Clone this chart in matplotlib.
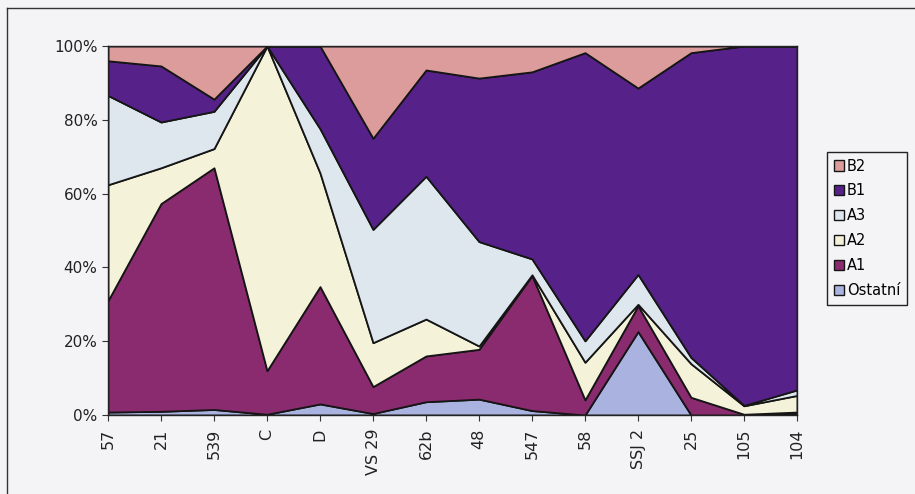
import matplotlib.pyplot as plt
import numpy as np

plt.rcParams['font.family'] = ['DejaVu Sans']

# categories along the x axis
labels = ['57', '21', '539', 'C', 'D', 'VS 29', '62b', '48', '547', '58', 'SSJ 2', '25', '105', '104']

# share of each class in percent
ostatni = [0.8, 1.0, 1.5, 0.2, 3.0, 0.4, 3.6, 4.3, 1.2, 0.0, 22.6, 0.0, 0.0, 0.3]
a1 = [30.2, 56.3, 65.5, 11.8, 31.8, 7.3, 12.4, 13.5, 36.6, 4.1, 7.0, 4.8, 0.2, 0.5]
a2 = [31.4, 9.7, 5.2, 88.0, 30.8, 11.9, 10.0, 0.9, 0.2, 10.2, 0.4, 9.1, 2.3, 4.5]
a3 = [24.2, 12.4, 10.1, 0.0, 12.0, 30.7, 38.7, 28.3, 4.3, 5.8, 8.1, 1.7, 0.1, 1.5]
b1 = [9.4, 15.2, 3.3, 0.0, 22.4, 24.7, 28.8, 44.3, 50.7, 78.1, 50.5, 82.6, 97.4, 93.2]
b2 = [4.0, 5.4, 14.4, 0.0, 0.0, 25.0, 6.5, 8.7, 7.0, 1.8, 11.4, 1.8, 0.0, 0.0]

names = ['Ostatní', 'A1', 'A2', 'A3', 'B1', 'B2']
colors = ['#aab2df', '#8b2b6f', '#f4f2d9', '#dee7ee', '#56228a', '#db9c9b']

fig = plt.figure(figsize=(9.15, 4.94), dpi=100, facecolor='#f4f4f6')
ax = fig.add_axes([108 / 915, 1 - 415 / 494, (797 - 108) / 915, (415 - 46) / 494])

x = np.arange(len(labels))
ax.stackplot(x, ostatni, a1, a2, a3, b1, b2, colors=colors, labels=names,
             edgecolor='#151515', linewidth=1.3)

ax.set_xlim(0, len(labels) - 1)
ax.set_ylim(0, 100)
ax.set_yticks([0, 20, 40, 60, 80, 100])
ax.set_yticklabels(['0%', '20%', '40%', '60%', '80%', '100%'], fontsize=11)
ax.set_xticks(x)
ax.set_xticklabels(labels, rotation=90, fontsize=11.5)
ax.tick_params(axis='both', length=4, width=0.8, color='#333333', labelcolor='#222222')
ax.tick_params(axis='x', pad=6)
ax.set_facecolor('#f4f4f6')
for s in ax.spines.values():
    s.set_color('#222222')
    s.set_linewidth(1.0)

# legend, top entry is B2
h, l = ax.get_legend_handles_labels()
leg = fig.legend(h[::-1], l[::-1], loc='upper left', bbox_to_anchor=(827 / 915, 1 - 152 / 494),
                 bbox_transform=fig.transFigure, borderaxespad=0, fancybox=False,
                 edgecolor='#222222', facecolor='#f4f4f6', framealpha=1, fontsize=10.5,
                 handlelength=0.7, handleheight=0.7, handletextpad=0.2, labelspacing=0.68,
                 borderpad=0.45)
leg.get_frame().set_linewidth(1.0)
for p in leg.get_patches():
    p.set_edgecolor('#151515')
    p.set_linewidth(1.0)

# frame of the scanned figure
fig.add_artist(plt.Line2D([7 / 915, 7 / 915], [0, 1 - 8 / 494], transform=fig.transFigure, color='#333333', lw=1))
fig.add_artist(plt.Line2D([7 / 915, 1], [1 - 8 / 494, 1 - 8 / 494], transform=fig.transFigure, color='#333333', lw=1))

plt.savefig('out.png', dpi=100, facecolor=fig.get_facecolor())
